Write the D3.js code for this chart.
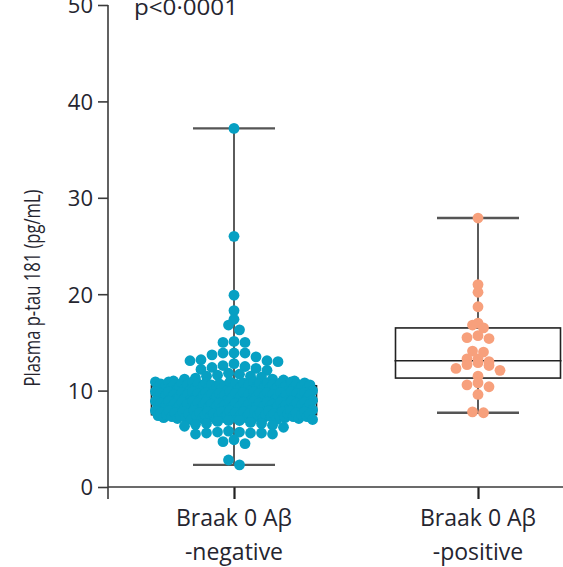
<!DOCTYPE html>
<html>
<head>
<meta charset="utf-8">
<script src="https://cdn.jsdelivr.net/npm/d3@7"></script>
<style>
  body { margin: 0; background: #fff; }
  text { font-family: "Open Sans", sans-serif; fill: #25252f; }
</style>
</head>
<body>
<svg width="563" height="567"></svg>
<script>
const groups = ["negative", "positive"];
const groupLabels = [["Braak 0 Aβ", "-negative"], ["Braak 0 Aβ", "-positive"]];
const yTicks = [0, 10, 20, 30, 40, 50];
const yTitle = "Plasma p-tau 181 (pg/mL)";
const pLabel = "p<0·0001";

// box stats: [whisker low, q1, median, q3, whisker high]
const negStats = [2.3, 7.5, 8.9, 10.5, 37.2];
const posStats = [7.7, 11.3, 13.1, 16.5, 27.9];

const negValues = [
  37.2, 26.0, 19.9, 18.3, 17.4, 16.8, 16.3, 15.0, 15.0, 15.1,
  13.0, 13.1, 13.1, 13.2, 13.5, 13.7, 13.9, 13.9, 13.9,
  12.1, 12.2, 12.3, 12.4, 12.5, 12.6, 12.8,
  11.0, 11.0, 11.1, 11.2, 11.2, 11.3, 11.4, 11.5, 11.5, 11.6, 11.7, 11.8,
  10.0, 10.0, 10.0, 10.0, 10.0, 10.0, 10.1, 10.1, 10.1, 10.1, 10.1, 10.1,
  10.2, 10.2, 10.2, 10.2, 10.2, 10.2, 10.3, 10.3, 10.3, 10.3, 10.3, 10.3,
  10.4, 10.4, 10.4, 10.4, 10.4, 10.4, 10.5, 10.5, 10.5, 10.5, 10.5, 10.5,
  10.6, 10.6, 10.6, 10.6, 10.6, 10.6, 10.7, 10.7, 10.7, 10.7, 10.7, 10.7,
  10.8, 10.8, 10.8, 10.8, 10.8, 10.8, 10.9, 10.9, 10.9, 10.9, 10.9, 10.9,
  9.0, 9.0, 9.0, 9.0, 9.0, 9.0, 9.1, 9.1, 9.1, 9.1, 9.1, 9.1,
  9.2, 9.2, 9.2, 9.2, 9.2, 9.2, 9.3, 9.3, 9.3, 9.3, 9.3, 9.3,
  9.4, 9.4, 9.4, 9.4, 9.4, 9.4, 9.5, 9.5, 9.5, 9.5, 9.5, 9.5,
  9.6, 9.6, 9.6, 9.6, 9.6, 9.6, 9.7, 9.7, 9.7, 9.7, 9.7, 9.7,
  9.8, 9.8, 9.8, 9.8, 9.8, 9.8, 9.9, 9.9, 9.9, 9.9, 9.9, 9.9,
  8.0, 8.0, 8.0, 8.0, 8.0, 8.0, 8.1, 8.1, 8.1, 8.1, 8.1, 8.1,
  8.2, 8.2, 8.2, 8.2, 8.2, 8.2, 8.3, 8.3, 8.3, 8.3, 8.3, 8.3,
  8.4, 8.4, 8.4, 8.4, 8.4, 8.4, 8.5, 8.5, 8.5, 8.5, 8.5, 8.5,
  8.6, 8.6, 8.6, 8.6, 8.6, 8.6, 8.7, 8.7, 8.7, 8.7, 8.7, 8.7,
  8.8, 8.8, 8.8, 8.8, 8.8, 8.8, 8.9, 8.9, 8.9, 8.9, 8.9, 8.9,
  7.0, 7.0, 7.0, 7.0, 7.0, 7.1, 7.1, 7.1, 7.1, 7.1, 7.2, 7.2,
  7.2, 7.2, 7.2, 7.3, 7.3, 7.3, 7.3, 7.3, 7.3, 7.4, 7.4, 7.4,
  7.4, 7.4, 7.4, 7.5, 7.5, 7.5, 7.5, 7.5, 7.5, 7.6, 7.6, 7.6,
  7.6, 7.6, 7.6, 7.7, 7.7, 7.7, 7.7, 7.7, 7.7, 7.8, 7.8, 7.8,
  7.8, 7.8, 7.8, 7.9, 7.9, 7.9, 7.9, 7.9, 7.9, 7.9,
  6.2, 6.3, 6.4, 6.5, 6.6, 6.6, 6.7, 6.8, 6.9, 6.9,
  5.5, 5.5, 5.6, 5.6, 5.6, 5.7, 5.7, 5.8,
  4.5, 4.7, 4.9,
  2.3, 2.8
];

const posValues = [
  27.9, 21.0, 20.2, 18.7, 17.0, 16.8, 16.5, 15.7, 15.5, 15.4,
  14.1, 14.0, 13.3, 13.3, 13.0, 12.9, 12.7, 12.6, 12.3, 12.1,
  11.5, 10.8, 10.6, 10.4, 9.6, 7.8, 7.7
];

const negColor = "#07a0c3";
const posColor = "#f7a07c";

let margin = {top: 5, right: 0, bottom: 80, left: 108},
    width = 563, height = 567;

var svg = d3.select("svg");

let y = d3.scaleLinear().domain([0, 50]).range([487, margin.top]);
let x = d3.scalePoint().domain(groups).range([234, 478]);

let boxW = 165, capW = 82, r = 5.4, gap = 11;

// y axis
let yAxis = svg.append("g")
    .attr("transform", `translate(${margin.left},0)`)
    .call(d3.axisLeft(y).tickValues(yTicks).tickSize(10).tickPadding(5).tickSizeOuter(0));
yAxis.select(".domain").remove();
yAxis.selectAll(".tick line").attr("stroke", "#3a3a3a").attr("stroke-width", 1.6);
yAxis.selectAll(".tick text")
    .style("font-size", "22px")
    .attr("dy", "0.36em");
yAxis.append("line")
    .attr("x1", 0).attr("x2", 0)
    .attr("y1", y(50)).attr("y2", y(0) + 12)
    .attr("stroke", "#3a3a3a").attr("stroke-width", 1.6);

// x axis
let xAxis = svg.append("g")
    .attr("transform", `translate(0,${y(0)})`)
    .call(d3.axisBottom(x).tickSize(12).tickSizeOuter(0).tickFormat(""));
xAxis.select(".domain").remove();
xAxis.selectAll(".tick line").attr("stroke", "#222").attr("stroke-width", 2.2);
xAxis.append("line")
    .attr("x1", margin.left).attr("x2", width)
    .attr("y1", 0).attr("y2", 0)
    .attr("stroke", "#3a3a3a").attr("stroke-width", 1.6);

let labels = svg.append("g").selectAll("text")
    .data(groups)
    .enter()
    .append("text")
    .attr("text-anchor", "middle")
    .style("font-size", "23px");
labels.append("tspan")
    .attr("x", d => x(d)).attr("y", 526)
    .text((d, i) => groupLabels[i][0]);
labels.append("tspan")
    .attr("x", d => x(d)).attr("y", 560)
    .text((d, i) => groupLabels[i][1]);

// y title (font in the original is narrower, so squeeze it)
svg.append("text")
    .attr("transform", "translate(40,288) rotate(-90)")
    .attr("text-anchor", "middle")
    .attr("textLength", 197)
    .attr("lengthAdjust", "spacingAndGlyphs")
    .style("font-size", "21px")
    .text(yTitle);

svg.append("text")
    .attr("x", 134).attr("y", 15)
    .attr("textLength", 104)
    .attr("lengthAdjust", "spacingAndGlyphs")
    .style("font-size", "22px")
    .text(pLabel);

// box and whiskers
function drawBox(g, stats, cx) {
    let [lo, q1, med, q3, hi] = stats;
    g.append("line")
        .attr("x1", cx).attr("x2", cx)
        .attr("y1", y(hi)).attr("y2", y(lo))
        .attr("stroke", "#333").attr("stroke-width", 1.6);
    [lo, hi].forEach(v => {
        g.append("line")
            .attr("x1", cx - capW / 2).attr("x2", cx + capW / 2)
            .attr("y1", y(v)).attr("y2", y(v))
            .attr("stroke", "#555").attr("stroke-width", 2.4);
    });
    g.append("rect")
        .attr("x", cx - boxW / 2).attr("width", boxW)
        .attr("y", y(q3)).attr("height", y(q1) - y(q3))
        .attr("fill", "#fff").attr("stroke", "#222").attr("stroke-width", 1.6);
    g.append("line")
        .attr("x1", cx - boxW / 2 - 1).attr("x2", cx + boxW / 2 + 1)
        .attr("y1", y(med)).attr("y2", y(med))
        .attr("stroke", "#222").attr("stroke-width", 1.6);
}

// GraphPad-like column scatter: bin by whole unit, spread each bin sideways
function swarm(values, cx) {
    let maxHalf = boxW / 2 - r + 1.5;
    let bins = d3.group(values, v => Math.floor(v));
    let pts = [];
    for (const [k, vs] of bins) {
        let sorted = vs.slice().sort((a, b) => b - a);
        let n = sorted.length;
        let s = n > 1 ? Math.min(gap, 2 * maxHalf / (n - 1)) : 0;
        let slots = d3.range(n).map(i => (i - (n - 1) / 2) * s);
        if (s >= gap) {
            slots.sort((a, b) => Math.abs(a) - Math.abs(b) || a - b);
            sorted.forEach((v, i) => pts.push({v: v, x: cx + slots[i]}));
        } else {
            // crowded bin: spread values evenly over the slots
            let order = d3.range(n).sort((a, b) => (a * 0.618034) % 1 - (b * 0.618034) % 1);
            order.forEach((vi, si) => pts.push({v: sorted[vi], x: cx + slots[si]}));
        }
    }
    return pts;
}

let negG = svg.append("g");
let posG = svg.append("g");
drawBox(negG, negStats, x("negative"));
drawBox(posG, posStats, x("positive"));

negG.selectAll("circle")
    .data(swarm(negValues, x("negative")))
    .enter()
    .append("circle")
    .attr("cx", d => d.x)
    .attr("cy", d => y(d.v))
    .attr("r", r)
    .attr("fill", negColor);

posG.selectAll("circle")
    .data(swarm(posValues, x("positive")))
    .enter()
    .append("circle")
    .attr("cx", d => d.x)
    .attr("cy", d => y(d.v))
    .attr("r", r)
    .attr("fill", posColor);
</script>
</body>
</html>
